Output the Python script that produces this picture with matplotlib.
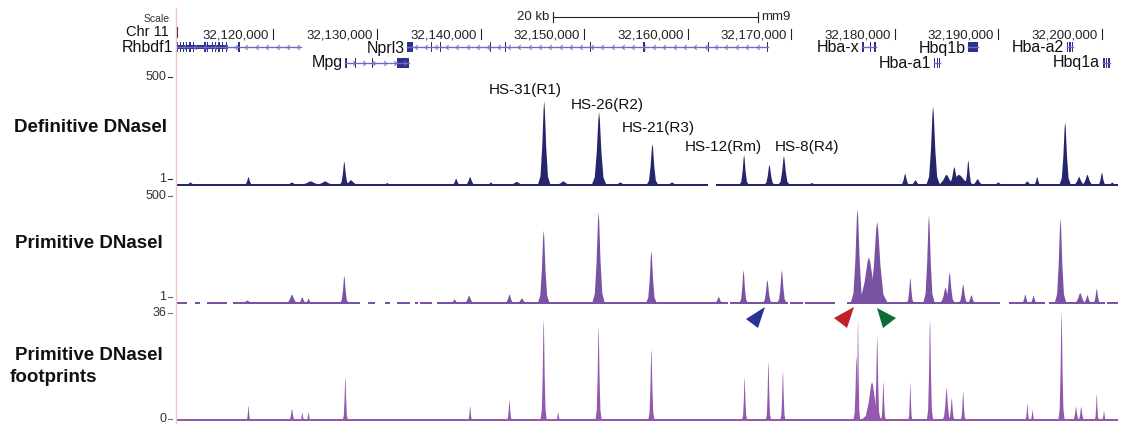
import numpy as np
import matplotlib.pyplot as plt
from matplotlib.patches import Polygon, Rectangle
from matplotlib.path import Path

plt.rcParams['font.family'] = ['Liberation Sans', 'DejaVu Sans']

# ---- genome window (kb on chr11, mm9)
x_start, x_end = 32110.6, 32201.55

ruler_ticks = [32120, 32130, 32140, 32150, 32160, 32170, 32180, 32190, 32200]
ruler_labels = ['32,120,000', '32,130,000', '32,140,000', '32,150,000', '32,160,000',
                '32,170,000', '32,180,000', '32,190,000', '32,200,000']
scale_bar = (32147.0, 32166.8)

# ---- genes (kb), row 0 = upper line, row 1 = lower line
gene_names = ['Rhbdf1', 'Mpg', 'Nprl3', 'Hba-x', 'Hba-a1', 'Hbq1b', 'Hba-a2', 'Hbq1a']
gene_start = [32110.6, 32126.95, 32132.95, 32176.85, 32183.75, 32187.1, 32196.6, 32200.1]
gene_end = [32122.7, 32133.1, 32167.8, 32178.2, 32184.4, 32188.0, 32197.2, 32200.8]
gene_row = [0, 1, 0, 0, 1, 0, 0, 1]
gene_strand = [-1, 1, -1, 1, 1, 1, 1, 1]
gene_exons = [
    [(32110.6, 32110.8), (32111.0, 32111.1), (32111.3, 32111.4), (32111.6, 32111.7),
     (32111.9, 32112.0), (32112.25, 32112.35), (32113.3, 32113.45), (32113.6, 32113.7),
     (32114.1, 32114.2), (32114.4, 32114.5), (32114.7, 32114.8), (32115.05, 32115.15),
     (32115.45, 32115.55), (32116.55, 32116.75)],
    [(32126.95, 32127.1), (32127.9, 32128.0), (32129.5, 32129.6), (32131.9, 32133.1)],
    [(32132.95, 32133.5), (32135.2, 32135.3), (32136.1, 32136.2), (32140.9, 32141.0),
     (32142.4, 32142.5), (32150.55, 32150.7), (32155.65, 32155.85), (32162.0, 32162.1),
     (32167.7, 32167.8)],
    [(32176.85, 32177.0), (32177.6, 32177.75), (32177.95, 32178.2)],
    [(32183.75, 32183.9), (32184.05, 32184.2), (32184.3, 32184.4)],
    [(32187.1, 32188.0)],
    [(32196.6, 32196.75), (32196.85, 32197.0), (32197.1, 32197.2)],
    [(32200.1, 32200.25), (32200.35, 32200.5), (32200.6, 32200.8)],
]

# ---- signal tracks: peaks as (centre kb, height as fraction of track range, half width kb)
def_peaks = [
    (32112.0, 0.02, 0.5), (32117.6, 0.07, 0.4), (32121.8, 0.02, 0.6), (32123.6, 0.03, 1.2),
    (32125.0, 0.03, 1.0), (32126.85, 0.21, 0.45), (32127.5, 0.04, 0.8), (32131.0, 0.015, 0.4),
    (32137.65, 0.055, 0.4), (32139.0, 0.07, 0.5), (32141.0, 0.02, 0.4), (32143.5, 0.025, 0.8),
    (32146.15, 0.76, 0.6), (32148.0, 0.03, 0.8), (32151.45, 0.66, 0.7), (32153.5, 0.02, 0.6),
    (32156.6, 0.37, 0.55), (32158.5, 0.02, 0.6), (32165.45, 0.27, 0.45), (32167.9, 0.18, 0.5),
    (32169.3, 0.26, 0.55), (32172.0, 0.015, 0.5), (32181.0, 0.10, 0.45), (32182.0, 0.04, 0.5),
    (32183.7, 0.71, 0.65), (32185.0, 0.09, 1.0), (32185.75, 0.16, 0.6), (32186.2, 0.09, 1.6),
    (32187.1, 0.22, 0.4), (32188.0, 0.05, 0.6), (32190.0, 0.02, 0.5), (32192.8, 0.03, 0.5),
    (32193.75, 0.07, 0.35), (32196.45, 0.57, 0.55), (32197.8, 0.07, 0.6), (32198.6, 0.09, 0.6),
    (32200.0, 0.11, 0.4), (32201.0, 0.02, 0.4),
]
def_base = [(32110.6, 32162.0), (32162.7, 32201.55)]

prim_peaks = [
    (32117.5, 0.02, 0.6), (32121.8, 0.075, 0.6), (32122.8, 0.05, 0.4), (32123.4, 0.04, 0.3),
    (32126.85, 0.25, 0.4), (32137.5, 0.03, 0.4), (32138.9, 0.065, 0.5), (32142.8, 0.075, 0.45),
    (32144.0, 0.04, 0.5), (32146.1, 0.67, 0.55), (32151.4, 0.84, 0.6), (32156.5, 0.48, 0.5),
    (32163.0, 0.055, 0.4), (32165.4, 0.30, 0.4), (32167.7, 0.21, 0.45), (32169.1, 0.30, 0.45),
    (32176.4, 0.87, 0.65), (32177.5, 0.42, 1.3), (32178.3, 0.75, 1.0), (32181.5, 0.23, 0.35),
    (32183.3, 0.81, 0.55), (32184.9, 0.14, 0.6), (32185.3, 0.28, 0.5), (32186.6, 0.17, 0.45),
    (32187.4, 0.07, 0.4), (32192.6, 0.075, 0.35), (32193.4, 0.065, 0.35), (32196.0, 0.78, 0.55),
    (32197.9, 0.09, 0.6), (32198.6, 0.07, 0.4), (32199.5, 0.13, 0.35),
]
prim_base = [
    (32110.6, 32111.7), (32112.47, 32112.95), (32113.63, 32115.56), (32116.14, 32128.4),
    (32129.17, 32129.85), (32130.81, 32131.29), (32131.97, 32133.22), (32133.71, 32134.0),
    (32134.19, 32135.35), (32135.83, 32163.92), (32164.11, 32169.71), (32169.9, 32171.16),
    (32171.35, 32174.25), (32175.41, 32190.17), (32191.04, 32194.52), (32194.9, 32200.31),
    (32200.5, 32201.55),
]

fp_peaks = [
    (32117.6, 0.13, 0.2), (32121.8, 0.10, 0.3), (32122.8, 0.065, 0.2), (32123.4, 0.065, 0.2),
    (32126.95, 0.40, 0.25), (32139.0, 0.13, 0.2), (32142.8, 0.18, 0.25), (32146.1, 0.93, 0.3),
    (32147.5, 0.07, 0.2), (32151.4, 0.86, 0.3), (32156.5, 0.66, 0.3), (32165.5, 0.39, 0.25),
    (32167.8, 0.54, 0.25), (32169.2, 0.45, 0.25), (32176.3, 0.59, 0.3), (32176.45, 0.93, 0.2),
    (32177.8, 0.35, 1.0), (32178.3, 0.77, 0.3), (32178.9, 0.35, 0.25), (32181.5, 0.34, 0.2),
    (32183.4, 0.93, 0.3), (32185.0, 0.29, 0.4), (32185.5, 0.20, 0.3), (32186.6, 0.26, 0.25),
    (32192.8, 0.15, 0.2), (32193.3, 0.09, 0.2), (32196.1, 1.0, 0.3), (32197.5, 0.12, 0.3),
    (32198.0, 0.12, 0.3), (32199.5, 0.24, 0.2), (32200.2, 0.08, 0.2),
]
fp_base = [(32110.6, 32201.55)]

hs_labels = ['HS-31(R1)', 'HS-26(R2)', 'HS-21(R3)', 'HS-12(Rm)', 'HS-8(R4)']
hs_x = [32144.3, 32152.2, 32157.2, 32163.4, 32171.5]
hs_y = [0.873, 0.736, 0.527, 0.355, 0.355]

W, H = 1128, 424
fig = plt.figure(figsize=(W / 100, H / 100), dpi=100)


def px_box(x0, y0, x1, y1):
    return [x0 / W, 1 - y1 / H, (x1 - x0) / W, (y1 - y0) / H]


# peak profile: wide base, narrow top
shape_x = np.array([-1, -0.6, -0.32, -0.1, 0, 0.1, 0.32, 0.6, 1])
shape_y = np.array([0, 0.1, 0.45, 0.9, 1, 0.9, 0.45, 0.1, 0])


def draw_track(box, peaks, base, color):
    ax = fig.add_axes(box)
    ax.set_xlim(x_start, x_end)
    ax.set_ylim(0, 1)
    ax.axis('off')
    for a, b in base:
        ax.add_patch(Rectangle((a, 0), b - a, 0.02, color=color, lw=0))
    for c, h, w in peaks:
        ax.fill(c + shape_x * w, 0.012 + shape_y * h, color=color, lw=0)
    return ax


c_def = '#25256c'
c_prim = '#7a52a4'
c_fp = '#9459ae'
ax1 = draw_track(px_box(176, 76, 1118, 186), def_peaks, def_base, c_def)
ax2 = draw_track(px_box(176, 196, 1118, 304), prim_peaks, prim_base, c_prim)
ax3 = draw_track(px_box(176, 313, 1118, 421), fp_peaks, fp_base, c_fp)

for lab, x, y in zip(hs_labels, hs_x, hs_y):
    ax1.text(x, y, lab, ha='center', va='center', fontsize=11, color='#111111')

# ---- ruler + genes
axg = fig.add_axes(px_box(176, 0, 1118, 72))
axg.set_xlim(x_start, x_end)
axg.set_ylim(72, 0)
axg.axis('off')

for t, lab in zip(ruler_ticks, ruler_labels):
    axg.plot([t, t], [29, 39], color='#222222', lw=0.8)
    axg.annotate(lab, (t, 35), xytext=(-3, 0), textcoords='offset points',
                 ha='right', va='center', fontsize=9.5, color='#222222')
axg.plot([x_start + 0.05] * 2, [27, 37], color='#222222', lw=0.8)

axg.plot(scale_bar, [17, 17], color='#222222', lw=0.8)
for s in scale_bar:
    axg.plot([s, s], [12, 22], color='#222222', lw=0.8)
axg.annotate('20 kb', (scale_bar[0], 17), xytext=(-3, 0), textcoords='offset points',
             ha='right', va='center', fontsize=9.5, color='#222222')
axg.annotate('mm9', (scale_bar[1], 17), xytext=(2, 0), textcoords='offset points',
             ha='left', va='center', fontsize=9.5, color='#222222')

chev_l = Path([(0.5, 1), (-0.5, 0), (0.5, -1)], [Path.MOVETO, Path.LINETO, Path.LINETO])
chev_r = Path([(-0.5, 1), (0.5, 0), (-0.5, -1)], [Path.MOVETO, Path.LINETO, Path.LINETO])
c_gene = '#2f2f8f'
c_intron = '#6c6cc0'
for name, s, e, r, st, ex in zip(gene_names, gene_start, gene_end, gene_row,
                                 gene_strand, gene_exons):
    y = 47 if r == 0 else 63
    axg.plot([s, e], [y, y], color=c_intron, lw=1)
    if e - s > 3:
        xs = np.arange(s + 0.8, e - 0.3, 1.0)
        axg.plot(xs, [y] * len(xs), ls='none', marker=chev_l if st < 0 else chev_r,
                 ms=3.5, mfc='none', mec=c_intron, mew=0.7)
    for a, b in ex:
        axg.add_patch(Rectangle((a, y - 5), b - a, 10, color=c_gene, lw=0))
    ty = y + 1 if r == 0 else y
    axg.annotate(name, (s, ty), xytext=(-2, 0), textcoords='offset points',
                 ha='right', va='center', fontsize=11.5, color='#111111')
# coding blocks
axg.add_patch(Rectangle((32110.6, 45), 5.0, 4, color=c_gene, lw=0))
axg.add_patch(Rectangle((32131.9, 59), 1.2, 8, color=c_gene, lw=0))

# ---- overlay in pixel space: side labels, y axis labels, arrows
ov = fig.add_axes([0, 0, 1, 1], zorder=5)
ov.set_xlim(0, W)
ov.set_ylim(H, 0)
ov.axis('off')
ov.patch.set_alpha(0)
ov.plot([175.5, 175.5], [8, H], color='#f7c4c4', lw=1, zorder=0)

ov.text(170, 19, 'Scale', ha='right', va='center', fontsize=7.5, color='#333333')
ov.text(169, 32, 'Chr 11', ha='right', va='center', fontsize=10.5, color='#111111')

ov.text(167, 128, 'Definitive DNaseI', ha='right', va='center', fontsize=13.5,
        fontweight='bold', color='#111111')
ov.text(163, 244, 'Primitive DNaseI', ha='right', va='center', fontsize=13.5,
        fontweight='bold', color='#111111')
ov.text(163, 355, 'Primitive DNaseI', ha='right', va='center', fontsize=13.5,
        fontweight='bold', color='#111111')
ov.text(10, 378, 'footprints', ha='left', va='center', fontsize=13.5,
        fontweight='bold', color='#111111')

yaxis_labels = [('500', 77, c_def), ('1', 179, c_def), ('500', 196, c_prim), ('1', 297, c_prim),
                ('36', 313, c_fp), ('0', 419, c_fp)]
for lab, y, c in yaxis_labels:
    ov.text(166, y, lab, ha='right', va='center', fontsize=9, color='#333333')
    ov.plot([168, 172], [y, y], color=c, lw=0.8)

arrows = [([(746, 319), (765, 307), (758, 328)], '#2b3192'),
          ([(834, 318), (854, 307), (847, 328)], '#c21f2c'),
          ([(877, 308), (896, 318), (883, 328)], '#0f6b36')]
for pts, c in arrows:
    ov.add_patch(Polygon(pts, closed=True, color=c, lw=0))

fig.savefig('out.png', dpi=100)
